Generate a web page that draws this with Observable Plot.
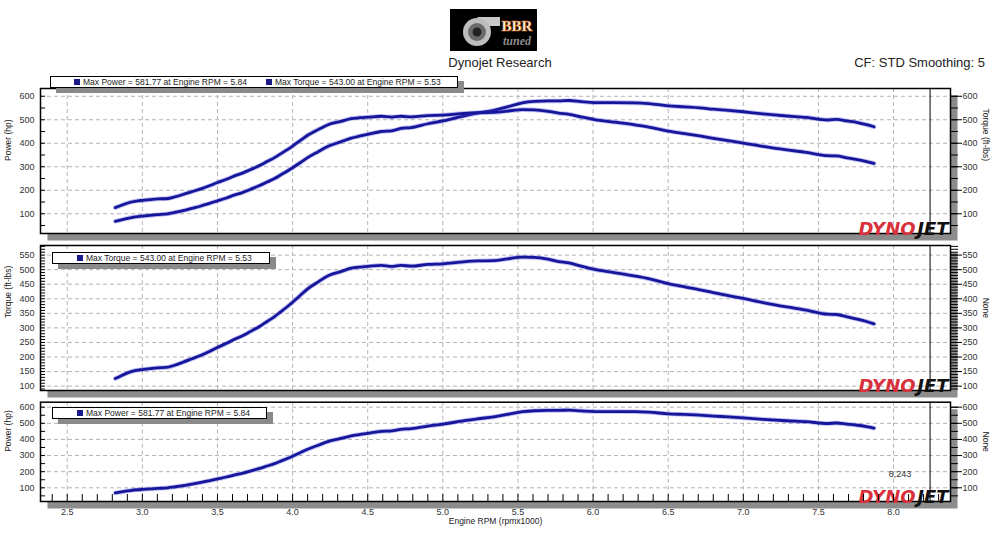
<!DOCTYPE html>
<html><head><meta charset="utf-8">
<script src="https://cdn.jsdelivr.net/npm/d3@7"></script>
<script src="https://cdn.jsdelivr.net/npm/@observablehq/plot@0.6"></script>
<style>
body{margin:0;background:#fff;font-family:"Liberation Sans",Arial,sans-serif;}
#root{position:relative;width:1000px;height:542px;overflow:hidden;background:#fff;}
.abs{position:absolute;}
.legend{position:absolute;background:#fff;border:1px solid #000;box-shadow:6px 5px 0 #8a8a8a;height:10px;font-size:8.5px;line-height:10px;color:#222;white-space:nowrap;}
.legend .mk{position:absolute;top:2px;width:6px;height:6px;background:#1a1a8c;}
.legend .tx{position:absolute;top:0;}
.hdr{position:absolute;font-size:13px;line-height:16px;color:#222;}
</style></head><body><div id="root">
<svg class="abs" style="left:450px;top:9px" width="87" height="42">
<rect width="87" height="42" fill="#000"/>
<path d="M27 8 L50 8 L50 17 L36 17 Z" fill="#c8c8c8"/>
<circle cx="27" cy="23" r="14" fill="#bdbdbd"/>
<circle cx="27" cy="23" r="9" fill="#6a6a6a"/>
<circle cx="27" cy="23" r="4.5" fill="#222"/>
<text x="67" y="22" text-anchor="middle" font-family="Liberation Serif" font-weight="bold" font-size="15" fill="#fff" stroke="#e07a20" stroke-width="0.7">BBR</text>
<text x="67" y="36" text-anchor="middle" font-family="Liberation Serif" font-style="italic" font-weight="bold" font-size="12" fill="#8a8a8a">tuned</text>
</svg>
<div class="hdr" style="left:400px;width:200px;text-align:center;top:55px;">Dynojet Research</div>
<div class="hdr" style="right:15px;top:55px;">CF: STD Smoothing: 5</div>
</div>
<script>
// ---- data (engine rpm x1000, torque ft-lbs, power hp) ----
const rpm = [2.82,2.86,2.92,2.97,3.00,3.05,3.10,3.17,3.21,3.27,3.33,3.39,3.45,3.50,3.56,3.61,3.67,3.72,3.78,3.83,3.88,3.92,3.96,4.00,4.05,4.10,4.17,4.24,4.32,4.39,4.45,4.50,4.59,4.66,4.72,4.79,4.90,5.00,5.12,5.23,5.34,5.43,5.53,5.61,5.70,5.77,5.84,5.92,6.01,6.14,6.28,6.37,6.50,6.61,6.71,6.80,6.90,7.00,7.13,7.29,7.42,7.56,7.62,7.69,7.76,7.82,7.87];
const torque = [126,136,149,155,157,160,163,165,171,182,194,206,220,233,247,260,274,288,305,322,339,355,371,388,411,434,458,480,493,505,509,511,515,511,515,512,518,520,526,530,531,537,543,542,536,528,523,512,501,490,478,469,452,441,431,421,411,401,387,372,361,347,346,338,330,322,314];
const power = [68,74,83,88,90,93,96,100,105,113,123,133,145,155,167,179,191,204,220,235,250,265,280,296,317,339,364,388,406,422,431,438,450,453,463,467,483,495,513,528,540,555,572,578,580,580,582,577,573,573,572,569,559,555,551,545,540,534,525,516,510,499,502,495,488,479,470];
const maxPower = "581.77", maxPowerRpm = "5.84";
const maxTorque = "543.00", maxTorqueRpm = "5.53";
const cursorRpm = 8.243;
const xTickLabels = [2.5,3.0,3.5,4.0,4.5,5.0,5.5,6.0,6.5,7.0,7.5,8.0];
const hpLabels = [100,200,300,400,500,600];
const tqLabels = [100,150,200,250,300,350,400,450,500,550];

const rows = rpm.map((r,i)=>({rpm:r, torque:torque[i], power:power[i]}));
const root = document.getElementById("root");
const W = 1000, ML = 40, MR = 50;
const xDomain = [2.322, 8.379];
const FONT = "Liberation Sans";
const LINE = "#16169a";

function lineMarks(key){
  return [
    Plot.line(rows,{x:"rpm",y:key,stroke:"#4848e0",strokeWidth:4.6,strokeOpacity:0.35,curve:"monotone-x"}),
    Plot.line(rows,{x:"rpm",y:key,stroke:LINE,strokeWidth:2.8,curve:"monotone-x"})
  ];
}

function panel(o){
  const frameW = W-ML-MR;
  const frameH = o.height-o.mt-o.mb;
  const marks = [
    Plot.frame({fill:"#8c8c8c",stroke:null,insetLeft:7,insetTop:7,insetRight:-7,insetBottom:-7}),
    Plot.frame({fill:"#fff",stroke:null}),
    Plot.gridX(xTickLabels,{stroke:"#b4b4b4",strokeOpacity:1,strokeDasharray:"4,3"}),
    Plot.gridY(o.grid,{stroke:"#b4b4b4",strokeOpacity:1,strokeDasharray:"4,3"}),
    Plot.ruleX([cursorRpm],{stroke:"#000",strokeWidth:1}),
    ...o.series.flatMap(lineMarks),
    Plot.frame({stroke:"#000",strokeWidth:1.5}),
    Plot.tickY(o.minor,{y:d=>d,insetRight:frameW-5,stroke:"#000"}),
    Plot.axisY(o.labels,{anchor:"left",label:null,tickSize:0,tickPadding:6,fontSize:9,fill:"#333"}),
    Plot.axisY(o.minor,{anchor:"right",label:null,tickSize:7,tickFormat:()=>"",stroke:"#000"}),
    Plot.axisY(o.labels,{anchor:"right",label:null,tickSize:11,tickPadding:1,fontSize:9,fill:"#333",stroke:"#000"}),
    Plot.text([o.leftLabel],{text:d=>d,frameAnchor:"left",rotate:-90,dx:-32,fontSize:8.5,fill:"#222"}),
    Plot.text([o.rightLabel],{text:d=>d,frameAnchor:"right",rotate:90,dx:35,fontSize:8.5,fill:"#222"}),
    Plot.text(["DYNO"],{text:d=>d,frameAnchor:"bottom-right",textAnchor:"end",lineAnchor:"bottom",dx:-35,dy:1,fontSize:18,fontWeight:"bold",fontStyle:"italic",fontFamily:"DejaVu Sans",fill:"#d8313b"}),
    Plot.text(["JET"],{text:d=>d,frameAnchor:"bottom-right",textAnchor:"end",lineAnchor:"bottom",dx:-2,dy:1,fontSize:18,fontWeight:"bold",fontStyle:"italic",fontFamily:"DejaVu Sans",fill:"#111"})
  ];
  if (o.xAxis){
    marks.push(
      Plot.tickX(d3.range(24,84).map(d=>d/10),{x:d=>d,insetTop:frameH-7,stroke:"#000"}),
      Plot.axisX(xTickLabels,{anchor:"bottom",label:null,tickSize:0,tickPadding:7,tickFormat:d3.format(".1f"),fontSize:9,fill:"#333"}),
      Plot.text(["Engine RPM (rpmx1000)"],{text:d=>d,frameAnchor:"bottom",dy:22,fontSize:8.5,fill:"#222"}),
      Plot.text([cursorRpm],{x:d=>d,text:d=>d3.format(".3f")(d).replace(".",","),frameAnchor:"bottom",dx:-30,dy:-25,fontSize:9,fill:"#333"})
    );
  }
  const svg = Plot.plot({
    width:W, height:o.height,
    marginLeft:ML, marginRight:MR, marginTop:o.mt, marginBottom:o.mb,
    style:{fontFamily:FONT,background:"transparent",overflow:"visible"},
    x:{domain:xDomain, axis:null, label:null},
    y:{domain:o.yDomain, label:null},
    marks
  });
  svg.style.position="absolute"; svg.style.left="0px"; svg.style.top=o.top+"px";
  root.appendChild(svg);
}

panel({top:80,height:160,mt:8,mb:7,yDomain:[16,633],grid:hpLabels,labels:hpLabels,
  minor:d3.range(50,601,50),leftLabel:"Power (hp)",rightLabel:"Torque (ft-lbs)",series:["power","torque"]});
panel({top:240,height:157,mt:5,mb:7,yDomain:[85,583],grid:tqLabels,labels:tqLabels,
  minor:d3.range(90,581,10),leftLabel:"Torque (ft-lbs)",rightLabel:"None",series:["torque"]});
panel({top:397,height:145,mt:4.7,mb:41,yDomain:[15,631],grid:hpLabels,labels:hpLabels,
  minor:d3.range(50,601,50),leftLabel:"Power (hp)",rightLabel:"None",series:["power"],xAxis:true});

function legend(left,top,width,items){
  const d = document.createElement("div");
  d.className="legend";
  d.style.left=left+"px"; d.style.top=top+"px"; d.style.width=width+"px";
  for (const it of items){
    const m=document.createElement("span"); m.className="mk"; m.style.left=(it.x-left-1)+"px"; d.appendChild(m);
    const t=document.createElement("span"); t.className="tx"; t.style.left=(it.x-left+8)+"px"; t.textContent=it.text; d.appendChild(t);
  }
  root.appendChild(d);
}
const pTxt = `Max Power = ${maxPower} at Engine RPM = ${maxPowerRpm}`;
const tTxt = `Max Torque = ${maxTorque} at Engine RPM = ${maxTorqueRpm}`;
legend(50,76,406,[{x:74,text:pTxt},{x:266,text:tTxt}]);
legend(52,252,216,[{x:77,text:tTxt}]);
legend(52,407,213,[{x:77,text:pTxt}]);
</script>
</body></html>
